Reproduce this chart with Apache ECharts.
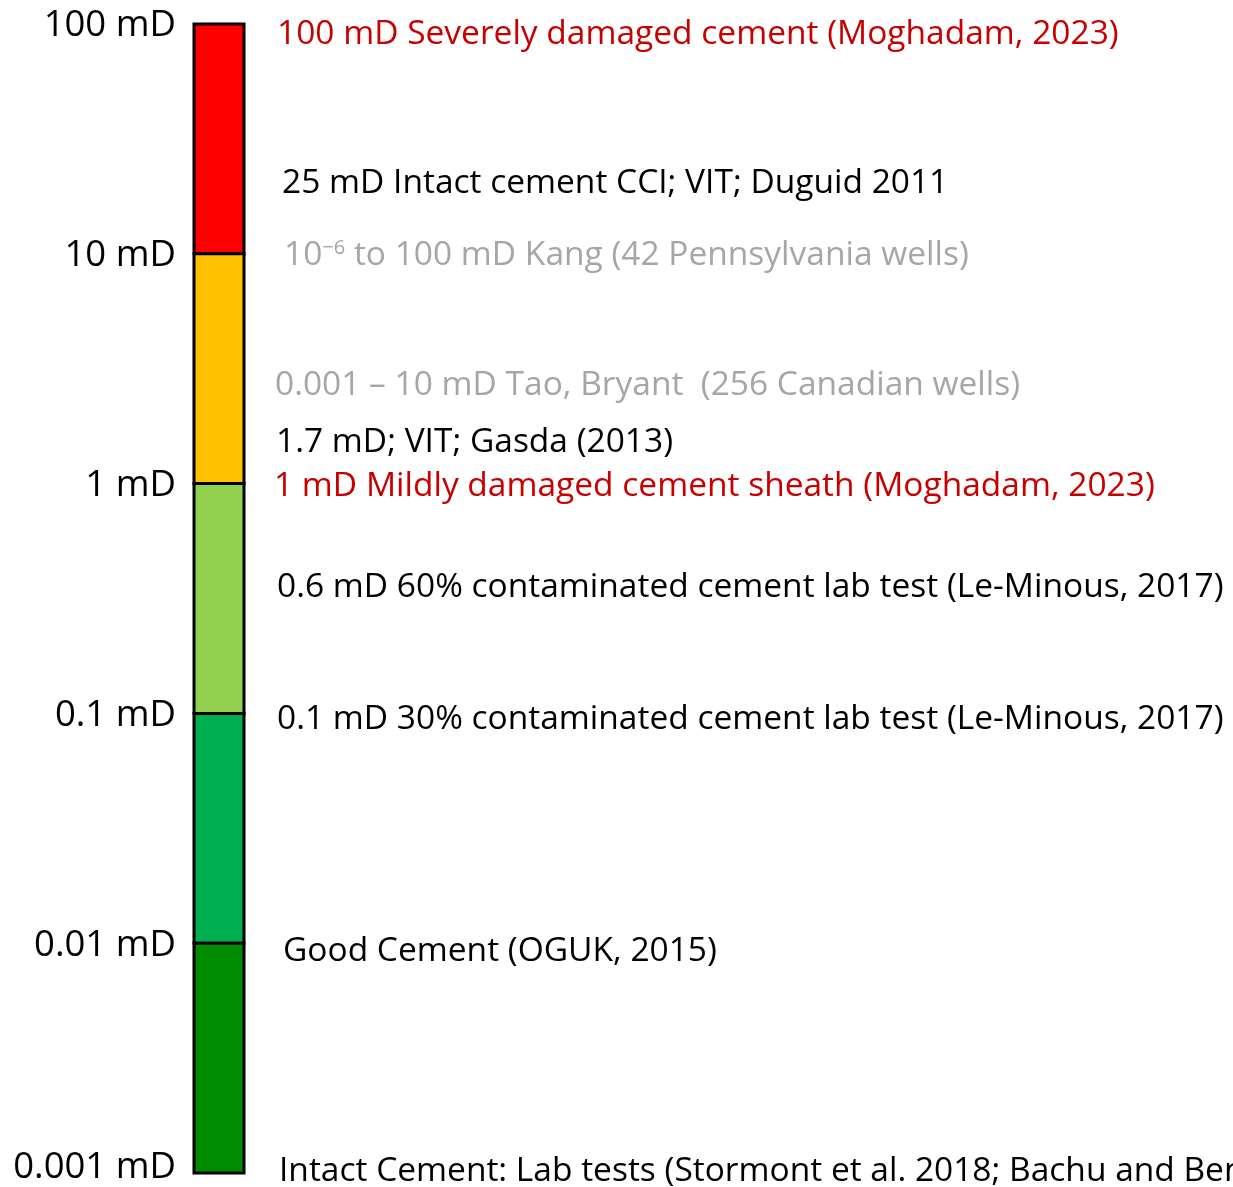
<!DOCTYPE html>
<html>
<head>
<meta charset="utf-8">
<script src="https://cdn.jsdelivr.net/npm/echarts@6/dist/echarts.min.js"></script>
<style>html,body{margin:0;padding:0;background:#fff;}#c{width:1233px;height:1187px;}</style>
</head>
<body>
<div id="c"></div>
<script>
// Segment bounds (mD) and colours
var segLow = [10, 1, 0.1, 0.01, 0.001];
var segHigh = [100, 10, 1, 0.1, 0.01];
var segColors = ['#FF0000', '#FFC000', '#92D050', '#00B050', '#008C00'];

// Tick labels
var tickValues = [100, 10, 1, 0.1, 0.01, 0.001];
var tickLabels = ['100 mD', '10 mD', '1 mD', '0.1 mD', '0.01 mD', '0.001 mD'];

// Annotations: text, position on the permeability axis, colour, horizontal offset
var noteTexts = [
  '100 mD Severely damaged cement (Moghadam, 2023)',
  '25 mD Intact cement CCI; VIT; Duguid 2011',
  '{b|10}{sup|−6}{b| to 100 mD Kang (42 Pennsylvania wells)}',
  '0.001 – 10 mD Tao, Bryant  (256 Canadian wells)',
  '1.7 mD; VIT; Gasda (2013)',
  '1 mD Mildly damaged cement sheath (Moghadam, 2023)',
  '0.6 mD 60% contaminated cement lab test (Le-Minous, 2017)',
  '0.1 mD 30% contaminated cement lab test (Le-Minous, 2017)',
  'Good Cement (OGUK, 2015)',
  'Intact Cement: Lab tests (Stormont et al. 2018; Bachu and Bennion 2009)'
];
var notePos = [93, 20.8, 10.1, 2.75, 1.55, 1.0, 0.364, 0.097, 0.0095, 0.00105];
var noteColors = ['#C80000', '#000000', '#A6A6A6', '#A6A6A6', '#000000', '#C80000', '#000000', '#000000', '#000000', '#000000'];
var noteOffset = [58, 63, 65, 56, 57, 55, 58, 58, 64, 60];

var FONT = 'Open Sans';
var chart = echarts.init(document.getElementById('c'), null, {renderer: 'canvas'});

var segData = segLow.map(function (l, i) { return ['bar', l, segHigh[i], i]; });
var noteData = noteTexts.map(function (t, i) {
  return {
    value: ['bar', notePos[i]],
    itemStyle: {opacity: 1},
    label: {
      show: true,
      formatter: t,
      position: [noteOffset[i], 3],
      align: 'left',
      verticalAlign: 'middle',
      color: noteColors[i],
      opacity: 1,
      fontFamily: FONT,
      fontSize: 33.5,
      rich: {
        b: {color: noteColors[i], fontFamily: FONT, fontSize: 33.5},
        sup: {color: noteColors[i], fontFamily: FONT, fontSize: 20, verticalAlign: 'top', padding: [0, 0, 16, 0]}
      }
    }
  };
});

chart.setOption({
  animation: false,
  backgroundColor: '#ffffff',
  grid: {left: 194, top: 24, width: 50, height: 1149, containLabel: false, outerBoundsMode: 'none'},
  xAxis: {type: 'category', data: ['bar'], show: false},
  yAxis: {
    type: 'log', min: 0.001, max: 100, logBase: 10,
    axisLine: {show: false}, axisTick: {show: false}, splitLine: {show: false},
    axisLabel: {
      margin: 18, fontFamily: FONT, fontSize: 36.5, color: '#000',
      rich: {
        t: {fontFamily: FONT, fontSize: 36.5, color: '#000', padding: [4, 0, 0, 0]},
        tb: {fontFamily: FONT, fontSize: 36.5, color: '#000', padding: [0, 0, 10, 0]}
      },
      formatter: function (v) {
        for (var i = 0; i < tickValues.length; i++) {
          if (Math.abs(Math.log10(v) - Math.log10(tickValues[i])) < 1e-6) {
            return (i === tickValues.length - 1 ? '{tb|' : '{t|') + tickLabels[i] + '}';
          }
        }
        return '';
      }
    }
  },
  series: [
    {
      type: 'custom',
      data: segData,
      silent: true,
      renderItem: function (params, api) {
        var cs = params.coordSys;
        var top = api.coord(['bar', api.value(2)])[1];
        var bot = api.coord(['bar', api.value(1)])[1];
        return {
          type: 'rect',
          shape: {x: cs.x, y: top, width: cs.width, height: bot - top},
          style: {fill: segColors[api.value(3)], stroke: '#000', lineWidth: 3}
        };
      }
    },
    {
      type: 'scatter',
      data: noteData,
      symbolSize: 0,
      silent: true,
      clip: false,
      itemStyle: {opacity: 1},
      z: 5
    }
  ]
});
</script>
</body>
</html>
